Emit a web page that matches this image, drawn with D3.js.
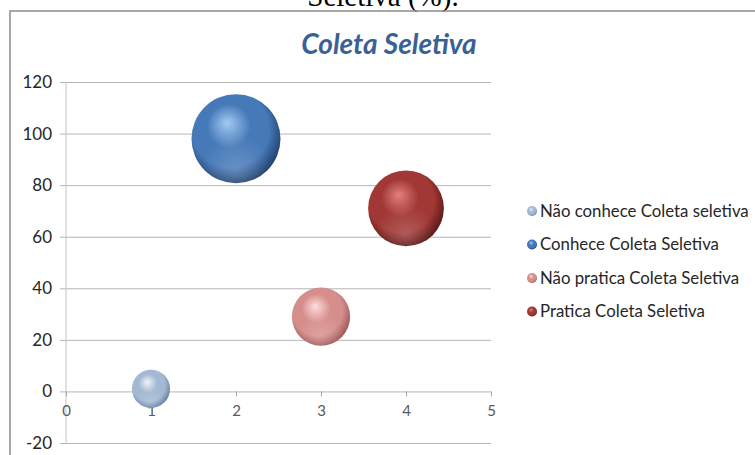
<!DOCTYPE html>
<html>
<head>
<meta charset="utf-8">
<script src="https://cdn.jsdelivr.net/npm/d3@7"></script>
<style>
  body { margin: 0; background: #fff; }
  svg { display: block; }
</style>
</head>
<body>
<div id="chart"></div>
<script>
// data
const series = ["Não conhece Coleta seletiva", "Conhece Coleta Seletiva", "Não pratica Coleta Seletiva", "Pratica Coleta Seletiva"];
const xValues = [1, 2, 3, 4];
const yValues = [1, 98, 29, 71];
const bubbleSizes = [18, 98, 42, 71];
const yTicks = [-20, 0, 20, 40, 60, 80, 100, 120];
const xTicks = [0, 1, 2, 3, 4, 5];

// sphere shading: highlight, base, edge
const shades = [
  ["#eef4fb", "#a3b8d2", "#5f7899"],
  ["#a2cbf2", "#4679b8", "#1a3860"],
  ["#fcdedd", "#d68e8c", "#93504e"],
  ["#e27f7c", "#a13836", "#4e1211"]
];

const width = 755, height = 455;

const x = d3.scaleLinear().domain([0, 5]).range([66, 491]);
const y = d3.scaleLinear().domain([-20, 120]).range([443, 82]);
const r = d3.scaleSqrt().domain([0, 98]).range([0, 44.5]);

const svg = d3.select("#chart").append("svg")
  .attr("width", width)
  .attr("height", height);

const defs = svg.append("defs");

shades.forEach((c, i) => {
  const g = defs.append("radialGradient")
    .attr("id", "sphere" + i)
    .attr("cx", "45%").attr("cy", "42%").attr("r", "62%")
    .attr("fx", "40%").attr("fy", "32%");
  g.selectAll("stop")
    .data([
      { offset: "0%", color: c[0] },
      { offset: "40%", color: c[1] },
      { offset: "70%", color: c[1] },
      { offset: "100%", color: c[2] }
    ])
    .join("stop")
    .attr("offset", d => d.offset)
    .attr("stop-color", d => d.color);
});

// soft reflection at the bottom of each sphere
const refl = defs.append("radialGradient")
  .attr("id", "reflect")
  .attr("cx", "50%").attr("cy", "85%").attr("r", "40%");
refl.append("stop").attr("offset", "0%").attr("stop-color", "#fff").attr("stop-opacity", 0.18);
refl.append("stop").attr("offset", "100%").attr("stop-color", "#fff").attr("stop-opacity", 0);

// clipped caption from the page above
svg.append("text")
  .attr("x", 383)
  .attr("y", 6)
  .attr("text-anchor", "middle")
  .attr("font-family", "Liberation Serif, serif")
  .attr("font-size", 29)
  .attr("fill", "#000")
  .text("Seletiva (%).");

// chart frame
svg.append("path")
  .attr("d", `M10,${height + 2}V11H${width + 2}`)
  .attr("fill", "none")
  .attr("stroke", "#8c8c8c")
  .attr("stroke-width", 1.5);

svg.append("text")
  .attr("x", 389)
  .attr("y", 54)
  .attr("text-anchor", "middle")
  .attr("font-family", "Lato, sans-serif")
  .attr("font-weight", "bold")
  .attr("font-style", "italic")
  .attr("font-size", 28)
  .attr("fill", "#3a6195")
  .text("Coleta Seletiva");

// horizontal gridlines + y labels
const yAxis = svg.append("g")
  .attr("transform", `translate(${x(5)},0)`)
  .call(d3.axisLeft(y).tickValues(yTicks).tickFormat(d => String(d)).tickSize(x(5) - 60).tickPadding(8))
  .call(g => g.select(".domain").remove());
yAxis.selectAll("line").attr("stroke", "#b5b5b5");
yAxis.selectAll("text")
  .attr("font-family", "Lato, sans-serif")
  .attr("font-size", 17)
  .attr("fill", "#262626");

// vertical axis line
svg.append("line")
  .attr("x1", x(0)).attr("x2", x(0))
  .attr("y1", y(120)).attr("y2", y(-20))
  .attr("stroke", "#c4c4c4");

// x axis on y = 0
const xAxis = svg.append("g")
  .attr("transform", `translate(0,${y(0)})`)
  .call(d3.axisBottom(x).tickValues(xTicks).tickFormat(d => String(d)).tickSize(5).tickPadding(9))
  .call(g => g.select(".domain").remove());
xAxis.selectAll("line").attr("stroke", "#a6a6a6");
xAxis.selectAll("text")
  .attr("font-family", "Lato, sans-serif")
  .attr("font-size", 15)
  .attr("fill", "#595959");

// bubbles
const bubbles = svg.append("g")
  .selectAll("g")
  .data(series.map((s, i) => ({ name: s, x: xValues[i], y: yValues[i], size: bubbleSizes[i], i })))
  .join("g")
  .attr("transform", d => `translate(${x(d.x)},${y(d.y)})`);

bubbles.append("circle")
  .attr("r", d => r(d.size))
  .attr("fill", d => `url(#sphere${d.i})`);
bubbles.append("circle")
  .attr("r", d => r(d.size))
  .attr("fill", "url(#reflect)");

// legend
const legend = svg.append("g")
  .selectAll("g")
  .data(series)
  .join("g")
  .attr("transform", (d, i) => `translate(532,${211 + i * 33.5})`);

legend.append("circle")
  .attr("r", 5)
  .attr("fill", (d, i) => `url(#sphere${i})`);

legend.append("text")
  .attr("x", 8)
  .attr("dy", "0.35em")
  .attr("font-family", "Lato, sans-serif")
  .attr("font-size", 16.8)
  .attr("fill", "#262626")
  .text(d => d);
</script>
</body>
</html>
